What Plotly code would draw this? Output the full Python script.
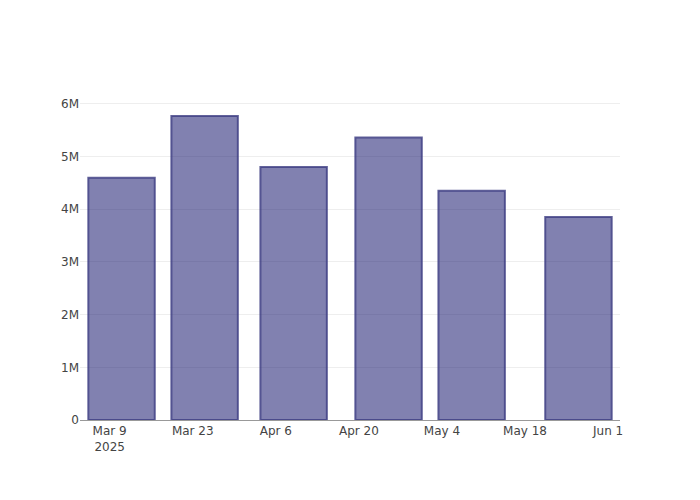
import plotly.graph_objects as go

dates = ["2025-03-11", "2025-03-25", "2025-04-09", "2025-04-25", "2025-05-09", "2025-05-27"]
values = [4600000, 5770000, 4800000, 5360000, 4350000, 3855000]

fig = go.Figure(
    go.Bar(
        x=dates,
        y=values,
        marker=dict(color="rgba(25,25,112,0.55)",
                    line=dict(color="rgba(60,60,130,0.8)", width=2)),
    )
)
fig.update_layout(
    template="none",
    width=700,
    height=500,
    showlegend=False,
    font=dict(family="DejaVu Sans, Verdana, sans-serif", color="#444", size=12),
    margin=dict(l=72, r=88, t=92, b=88),
    plot_bgcolor="white",
    paper_bgcolor="white",
)
fig.update_xaxes(showline=True, linecolor="#999999", linewidth=1, showgrid=False,
                 ticks="", zeroline=False)
fig.update_yaxes(showgrid=True, gridcolor="#eeeeee", zeroline=False, ticks="",
                 showline=False)
fig.write_html("out.html")
